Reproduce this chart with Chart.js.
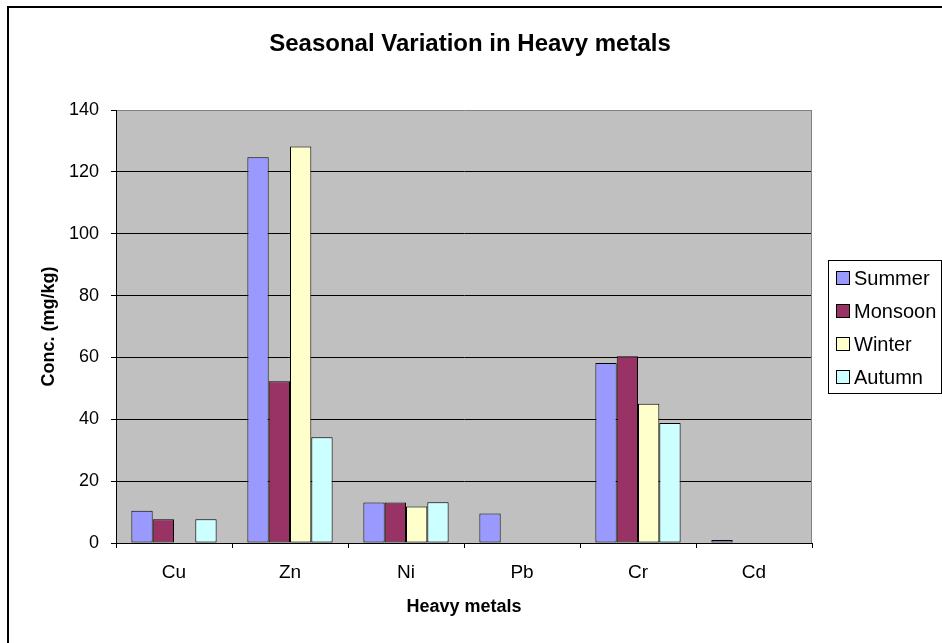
<!DOCTYPE html>
<html lang="en">
  <head>
    <meta charset="UTF-8" />
    <title>Seasonal Variation in Heavy metals</title>
    <script src="https://cdn.jsdelivr.net/npm/chart.js"></script>
    <style>
      body { margin: 0; background: #fff; }
      canvas { display: block; }
    </style>
  </head>
  <body>
    <canvas id="metalsChart" width="942" height="643"></canvas>

    <script>
      // Values (mg/kg); null = no bar
      const metals = ['Cu', 'Zn', 'Ni', 'Pb', 'Cr', 'Cd'];
      const summer = [10.4, 124.7, 13.1, 9.5, 58.2, 1.0];
      const monsoon = [7.7, 52.3, 13.1, null, 60.4, null];
      const winter = [null, 128.2, 11.8, null, 45.0, null];
      const autumn = [7.7, 34.2, 13.2, null, 38.8, null];
      const yTicks = [0, 20, 40, 60, 80, 100, 120, 140];
      const chartTitle = 'Seasonal Variation in Heavy metals';

      const fontFamily = '"Liberation Sans", Arial, sans-serif';

      // Excel-style frame, title, grey plot background and boxed legend
      const excelLook = {
        id: 'excelLook',
        beforeDraw(chart) {
          const { ctx, chartArea: a } = chart;
          ctx.save();
          ctx.strokeStyle = '#000';
          ctx.lineWidth = 2;
          ctx.beginPath();
          ctx.moveTo(8, 643);
          ctx.lineTo(8, 7);
          ctx.lineTo(942, 7);
          ctx.stroke();
          ctx.fillStyle = '#C0C0C0';
          ctx.fillRect(a.left, a.top, a.right - a.left, a.bottom - a.top);

          // title, centred on the whole frame like the original
          ctx.fillStyle = '#000';
          ctx.font = 'bold 24px ' + fontFamily;
          ctx.textAlign = 'center';
          ctx.textBaseline = 'middle';
          ctx.fillText(chartTitle, 470, 44);
          ctx.restore();
        },
        afterDraw(chart) {
          const { ctx, chartArea: a } = chart;
          ctx.save();
          // right edge of plot area
          ctx.strokeStyle = '#808080';
          ctx.lineWidth = 1;
          ctx.beginPath();
          ctx.moveTo(a.right - 0.5, a.top);
          ctx.lineTo(a.right - 0.5, a.bottom);
          ctx.stroke();

          // legend
          const lx = 828, ly = 260, lw = 113, lh = 133;
          ctx.fillStyle = '#fff';
          ctx.fillRect(lx, ly, lw, lh);
          ctx.strokeStyle = '#000';
          ctx.strokeRect(lx + 0.5, ly + 0.5, lw, lh);
          ctx.font = '20px ' + fontFamily;
          ctx.textBaseline = 'middle';
          ctx.textAlign = 'left';
          chart.data.datasets.forEach((ds, i) => {
            const cy = 278 + i * 33;
            ctx.fillStyle = ds.backgroundColor;
            ctx.fillRect(837, cy - 6, 12, 12);
            ctx.strokeStyle = '#000';
            ctx.strokeRect(836.5, cy - 6.5, 13, 13);
            ctx.fillStyle = '#000';
            ctx.fillText(ds.label, 854, cy + 1);
          });
          ctx.restore();
        }
      };

      function makeDataset(label, data, color) {
        return {
          label: label,
          data: data,
          backgroundColor: color,
          borderColor: '#000',
          borderWidth: 1,
          borderSkipped: false,
          categoryPercentage: 0.735,
          barPercentage: 1.0,
        };
      }

      const ctx = document.getElementById('metalsChart').getContext('2d');
      new Chart(ctx, {
        type: 'bar',
        data: {
          labels: metals,
          datasets: [
            makeDataset('Summer', summer, '#9999FF'),
            makeDataset('Monsoon', monsoon, '#993366'),
            makeDataset('Winter', winter, '#FFFFCC'),
            makeDataset('Autumn', autumn, '#CCFFFF'),
          ],
        },
        options: {
          responsive: false,
          animation: false,
          devicePixelRatio: 1,
          layout: { padding: { left: 0, right: 130, top: 110, bottom: 0 } },
          plugins: {
            legend: { display: false },
            tooltip: { enabled: false },
            title: { display: false },
          },
          scales: {
            x: {
              offset: true,
              afterFit: (scale) => { scale.height = 100; },
              grid: {
                offset: true,
                drawOnChartArea: false,
                drawTicks: true,
                tickLength: 5,
                color: '#000',
              },
              border: { color: '#000', width: 1 },
              ticks: {
                color: '#000',
                padding: 13,
                font: { family: fontFamily, size: 19 },
              },
              title: {
                display: true,
                text: 'Heavy metals',
                color: '#000',
                font: { family: fontFamily, size: 18, weight: 'bold', lineHeight: 1.2 },
                padding: { bottom: 25 },
              },
            },
            y: {
              min: 0,
              max: 140,
              afterFit: (scale) => { scale.width = 116; },
              afterBuildTicks: (scale) => { scale.ticks = yTicks.map((v) => ({ value: v })); },
              grid: {
                color: (c) => (c.tick && c.tick.value === 140 ? '#808080' : '#000'),
                tickColor: '#000',
                tickLength: 5,
                lineWidth: 1,
              },
              border: { color: '#000', width: 1 },
              ticks: {
                color: '#000',
                padding: 12,
                font: { family: fontFamily, size: 18 },
              },
              title: {
                display: true,
                text: 'Conc. (mg/kg)',
                color: '#000',
                font: { family: fontFamily, size: 18, weight: 'bold', lineHeight: 1.2 },
                padding: { top: 38 },
              },
            },
          },
        },
        plugins: [excelLook],
      });
    </script>
  </body>
</html>
